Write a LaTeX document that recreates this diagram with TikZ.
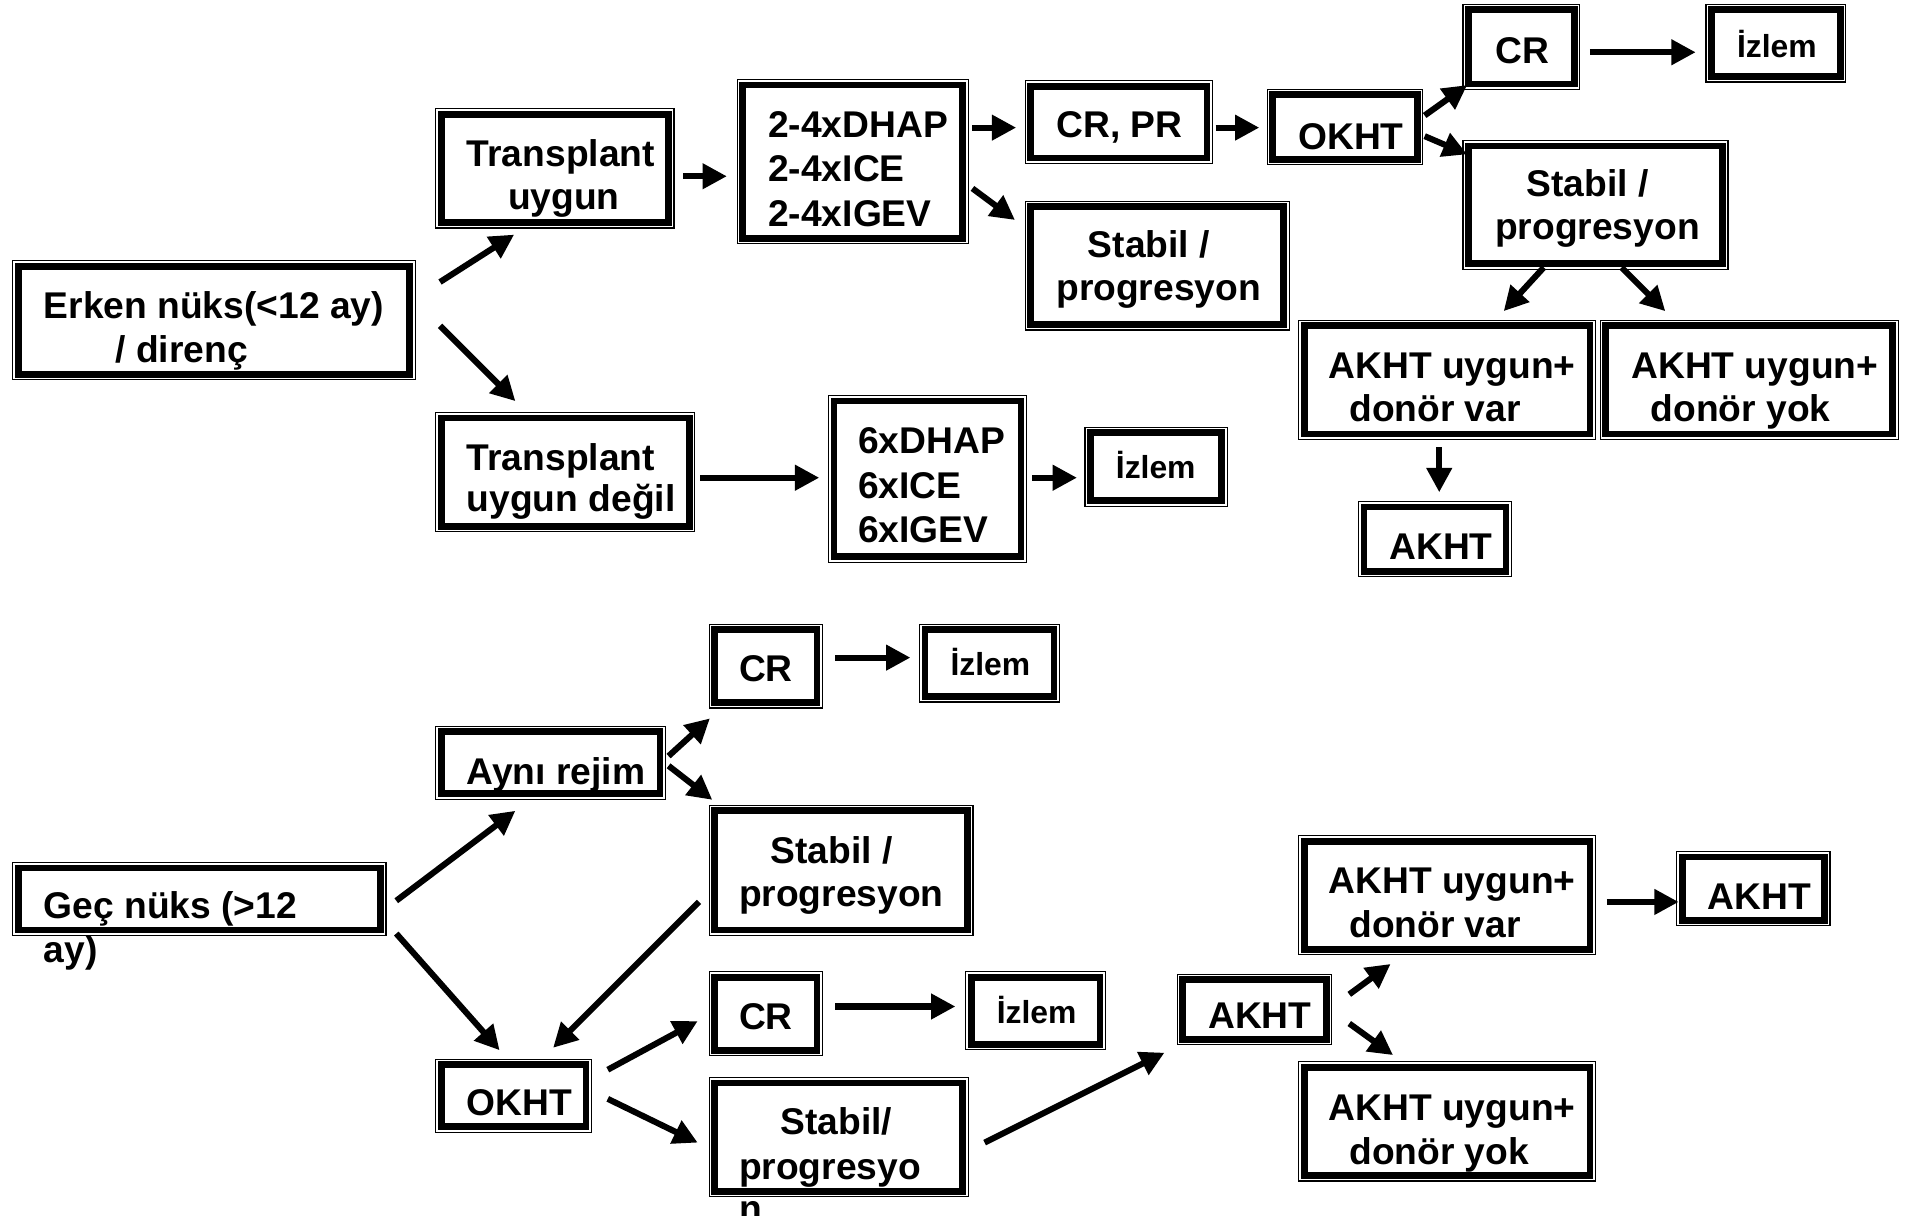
\documentclass[tikz,border=0pt]{standalone}
\usepackage{fontspec}
\setmainfont{Liberation Sans}
\usetikzlibrary{arrows.meta,fit}
\tikzset{
  thickbox/.style={draw=black, line width=2.75pt, inner sep=0pt, fill=none},
  thinbox/.style={draw=black, line width=0.5pt},
  lbl/.style={inner sep=0pt, outer sep=0pt, anchor=base west, font=\bfseries\fontsize{15.3pt}{18pt}\selectfont},
  small/.style={font=\bfseries\fontsize{13.1pt}{16pt}\selectfont},
  arr/.style={draw=black, line width=2.5pt, -{Triangle[length=10pt,width=10pt]}}
}
% box: name, x1, y1, x2, y2 (outer bounds of the thin frame)
\newcommand\dbox[5]{%
  \draw[thinbox] ({#2+0.5},{#3+0.5}) rectangle ({#4-0.5},{#5-0.5});
  \node[thickbox, fit={({#2+5},{#3+5}) ({#4-5},{#5-5})}] (#1) {};}
\newcommand\txt[4]{\node[lbl] (#1) at (#2,#3) {#4};}
\newcommand\stxt[4]{\node[lbl, small] (#1) at (#2,#3) {#4};}
\newcommand\arrw[5]{%
  \coordinate (#1s) at (#2,#3); \coordinate (#1e) at (#4,#5);
  \draw[arr] (#1s) -- (#1e);}
\begin{document}
\begin{tikzpicture}[x=0.5pt,y=-0.5pt]
\fill[white] (0,0) rectangle (1568,1000);
\useasboundingbox (0,0) rectangle (1568,1000);

% ---------- top section boxes ----------
\dbox{erken}{10}{214}{342}{313}
\dbox{tu}{358}{89}{555}{188}
\dbox{reg}{606}{65}{797}{201}
\dbox{crpr}{843}{66}{998}{135}
\dbox{stabA}{843}{165}{1061}{272}
\dbox{okhtA}{1042}{73}{1171}{136}
\dbox{crA}{1203}{3}{1300}{74}
\dbox{izA}{1403}{3}{1519}{68}
\dbox{stabB}{1203}{115}{1422}{222}
\dbox{varA}{1068}{263}{1313}{362}
\dbox{yokA}{1316}{263}{1562}{362}
\dbox{akhtA}{1117}{412}{1244}{475}
\dbox{tud}{358}{339}{572}{438}
\dbox{six}{681}{325}{845}{463}
\dbox{izB}{892}{351}{1010}{417}

% ---------- bottom section boxes ----------
\dbox{crB}{583}{513}{677}{583}
\dbox{izC}{756}{513}{872}{578}
\dbox{ayni}{358}{597}{548}{658}
\dbox{stabC}{583}{662}{801}{770}
\dbox{gec}{10}{709}{318}{770}
\dbox{okhtB}{358}{871}{487}{932}
\dbox{crC}{583}{799}{677}{869}
\dbox{izD}{794}{799}{910}{864}
\dbox{stabD}{583}{886}{797}{985}
\dbox{akhtB}{968}{801}{1096}{860}
\dbox{varB}{1068}{687}{1313}{786}
\dbox{akhtC}{1379}{700}{1506}{762}
\dbox{yokB}{1068}{873}{1313}{972}

% ---------- texts top ----------
\txt{t1a}{36}{262}{Erken nüks(<12 ay)}
\txt{t1b}{95}{298}{/ direnç}
\txt{t2a}{384}{137}{Transplant}
\txt{t2b}{418}{172}{uygun}
\txt{t3a}{632}{113}{2-4xDHAP}
\txt{t3b}{632}{149}{2-4xICE}
\txt{t3c}{632}{186}{2-4xIGEV}
\txt{t4}{869}{113}{CR, PR}
\txt{t5a}{895}{212}{Stabil /}
\txt{t5b}{869}{247}{progresyon}
\txt{t6}{1068}{123}{OKHT}
\txt{t7}{1230}{52}{CR}
\stxt{t8}{1429}{47}{İzlem}
\txt{t9a}{1256}{162}{Stabil /}
\txt{t9b}{1230}{197}{progresyon}
\txt{t10a}{1093}{311}{AKHT uygun+}
\txt{t10b}{1110}{347}{donör var}
\txt{t11a}{1342}{311}{AKHT uygun+}
\txt{t11b}{1358}{347}{donör yok}
\txt{t12}{1143}{460}{AKHT}
\txt{t13a}{384}{387}{Transplant}
\txt{t13b}{384}{421}{uygun değil}
\txt{t14a}{706}{373}{6xDHAP}
\txt{t14b}{706}{410}{6xICE}
\txt{t14c}{706}{446}{6xIGEV}
\stxt{t15}{918}{394}{İzlem}

% ---------- texts bottom ----------
\txt{t16}{608}{561}{CR}
\stxt{t17}{782}{556}{İzlem}
\txt{t18}{384}{645}{Aynı rejim}
\txt{t19a}{634}{710}{Stabil /}
\txt{t19b}{608}{746}{progresyon}
\txt{t20a}{36}{756}{Geç nüks (>12}
\txt{t20b}{36}{792}{ay)}
\txt{t21}{384}{918}{OKHT}
\txt{t22}{608}{847}{CR}
\stxt{t23}{820}{842}{İzlem}
\txt{t24a}{642}{933}{Stabil/}
\txt{t24b}{608}{970}{progresyo}
\txt{t24c}{608}{1005}{n}
\txt{t25}{994}{846}{AKHT}
\txt{t26a}{1093}{735}{AKHT uygun+}
\txt{t26b}{1110}{771}{donör var}
\txt{t27}{1405}{748}{AKHT}
\txt{t28a}{1093}{922}{AKHT uygun+}
\txt{t28b}{1110}{958}{donör yok}

% ---------- arrows top ----------
\arrw{a1}{362}{232}{423}{193}
\arrw{a2}{362}{268}{424}{330}
\arrw{a3}{562}{145}{598}{145}
\arrw{a4}{800}{105}{836}{105}
\arrw{a5}{800}{155}{835}{181}
\arrw{a6}{1000}{105}{1036}{105}
\arrw{a7}{1172}{95}{1207}{70}
\arrw{a8}{1172}{112}{1207}{127}
\arrw{a9}{1308}{43}{1395}{43}
\arrw{a10}{1270}{220}{1237}{256}
\arrw{a11}{1334}{220}{1370}{256}
\arrw{a12}{1184}{368}{1184}{405}
\arrw{a13}{576}{393}{674}{393}
\arrw{a14}{849}{393}{886}{393}

% ---------- arrows bottom ----------
\arrw{b1}{326}{741}{424}{667}
\arrw{b2}{326}{768}{411}{864}
\arrw{b3}{550}{622}{584}{591}
\arrw{b4}{550}{630}{586}{658}
\arrw{b5}{687}{541}{749}{541}
\arrw{b6}{575}{742}{455}{862}
\arrw{b7}{500}{880}{574}{840}
\arrw{b8}{500}{904}{574}{940}
\arrw{b9}{687}{828}{786}{828}
\arrw{b10}{810}{940}{958}{866}
\arrw{b11}{1110}{818}{1144}{793}
\arrw{b12}{1110}{842}{1146}{868}
\arrw{b13}{1322}{742}{1381}{742}
\end{tikzpicture}
\end{document}
